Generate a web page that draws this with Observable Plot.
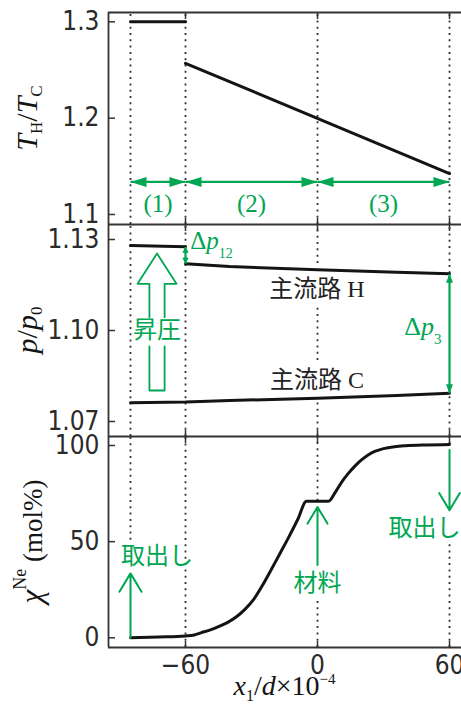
<!DOCTYPE html>
<html>
<head>
<meta charset="utf-8">
<script src="https://cdn.jsdelivr.net/npm/d3@7"></script>
<script src="https://cdn.jsdelivr.net/npm/@observablehq/plot@0.6"></script>
<style>
  html, body { margin: 0; padding: 0; background: white; }
  #wrap { position: relative; width: 461px; height: 719px; overflow: hidden; }
  .pane { position: absolute; left: 0; }
  svg { overflow: visible; }
</style>
</head>
<body>
<div id="wrap">
  <div class="pane" id="pa" style="top:0px"></div>
  <div class="pane" id="pb" style="top:212px"></div>
  <div class="pane" id="pc" style="top:424px"></div>
</div>
<script>
// ---------------- data ----------------
const xTicks = [-60, 0, 60];
const regionBounds = [-85, -60, 0, 60];
const regionLabels = ["(1)", "(2)", "(3)"];

// panel A : T_H / T_C
const thX1 = [-85, -60];
const thY1 = [1.300, 1.300];
const thX2 = [-60, 60];
const thY2 = [1.257, 1.1425];
const thTicks = [1.1, 1.2, 1.3];
const regionArrowY = 1.1338;
const regionLabelY = 1.1104;

// panel B : p / p0
const pHX1 = [-85, -60];
const pHY1 = [1.1280, 1.1276];
const pHX2 = [-60, -40, 0, 36, 60];
const pHY2 = [1.1220, 1.1211, 1.1200, 1.1192, 1.1187];
const pCX = [-85, -60, -40, 0, 36, 60];
const pCY = [1.0762, 1.0764, 1.0769, 1.0777, 1.0786, 1.0793];
const pTicks = [1.07, 1.10, 1.13];
const dp12 = {x: -60, y1: 1.1276, y2: 1.1220, lx: -57.6, ly: 1.1267};
const dp3 = {x: 60, y1: 1.1187, y2: 1.0793, lx: 56.6, ly: 1.09835};
const lineLabels = [{t: "主流路", s: " H", x: 0, y: 1.11088}, {t: "主流路", s: " C", x: 0, y: 1.08087}];
// hollow "boost" arrow outline
const boostX = [-76.4, -76.4, -81.8, -72.95, -64.1, -69.5, -69.5, -76.4, -76.4, -69.5, -69.5];
const boostY = [1.10438, 1.11539, 1.11539, 1.12538, 1.11539, 1.11539, 1.10438, 1.09472, 1.08021, 1.08021, 1.09472];
const boostPart = ["a", "a", "a", "a", "a", "a", "a", "b", "b", "b", "b"];
const boostLabel = {t: "昇圧", x: -72.95, y: 1.100};

// panel C : chi Ne (mol%)
const chiX = [-85, -72, -60, -56, -53, -49, -45, -41, -37, -33, -29, -25, -21, -17, -13, -9, -5,
              5, 8, 11, 14, 17, 20, 23, 26, 30, 35, 40, 50, 60];
const chiY = [0, 0.4, 1.0, 1.5, 2.6, 4.0, 5.8, 7.9, 10.8, 14.8, 20, 27.3, 35.5, 44, 52.5, 61.5, 71,
              71, 75.5, 81, 85.5, 89.3, 92.5, 95.1, 96.9, 98.4, 99.4, 99.9, 100.3, 100.5];
const chiTicks = [0, 50, 100];
const chiArrows = [
  {x: -85, y1: 0, y2: 33.5},
  {x: 0, y1: 37.9, y2: 68},
  {x: 60, y1: 97.6, y2: 66.3}
];
const chiLabels = [
  {t: "取出し", x: -73, y: 42.5},
  {t: "材料", x: 0, y: 28.1},
  {t: "取出し", x: 48.6, y: 57.1}
];

// ---------------- style ----------------
const GREEN = "#00a651";
const INK = "#141414";
const AX = "#333333";
const TICKFONT = "'Liberation Sans Narrow', 'DejaVu Sans Condensed', 'Liberation Sans', sans-serif";
const SERIF = "'Liberation Serif', 'DejaVu Serif', serif";
const CJK = "'Noto Sans CJK JP', 'Noto Sans CJK SC', sans-serif";
const DOTS = "2 4.3";
const TICKSIZE = 26;

const xDomain = [-95, 65.45];
const yA = [1.0896, 1.3097];
const yB = [1.06505, 1.13495];
const yC = [-5.04, 104.68];

function pts(xs, ys) { return xs.map((x, i) => ({x, y: ys[i]})); }

function frameAndAxes(yDom, yTicks, yFmt, bottomRule) {
  const m = [
    Plot.ruleY([yDom[1]], {stroke: AX, strokeWidth: 1.8}),
    Plot.ruleX([xDomain[0]], {stroke: AX, strokeWidth: 1.8}),
    Plot.axisY({ticks: yTicks, tickSize: 0, tickPadding: 9, tickFormat: yFmt, fontSize: TICKSIZE,
                fontFamily: TICKFONT, fill: "#2a2a2a", label: null}),
    Plot.axisY({ticks: yTicks, tickSize: -7, tickFormat: () => "", stroke: AX, strokeWidth: 1.5, label: null}),
    Plot.axisX({anchor: "top", ticks: xTicks, tickSize: -6, tickFormat: () => "", stroke: AX, strokeWidth: 1.5, label: null}),
    Plot.axisX({anchor: "bottom", ticks: xTicks, tickSize: -6, tickFormat: () => "", stroke: AX, strokeWidth: 1.5, label: null})
  ];
  if (bottomRule) m.push(Plot.ruleY([yDom[0]], {stroke: AX, strokeWidth: 1.8}));
  return m;
}

function guides(data) {
  return Plot.ruleX(data, {x: "x", y1: "y1", y2: "y2", stroke: AX, strokeWidth: 1.8, strokeDasharray: DOTS});
}

function spikes(data, len, r) {
  return Plot.vector(data, {x: "x", y: "y", rotate: "rot", length: len, r, shape: "spike",
                            anchor: "end", fill: GREEN, stroke: "none"});
}

function rich(svg, x, y, parts, {anchor = "start", rotate = 0, fill = INK} = {}) {
  const t = d3.select(svg).append("text")
    .attr("transform", `translate(${x},${y}) rotate(${rotate})`)
    .attr("text-anchor", anchor).attr("fill", fill);
  let shift = 0;
  for (const p of parts) {
    const ts = t.append("tspan").text(p.t)
      .attr("font-family", p.font || SERIF)
      .attr("font-size", p.size)
      .attr("font-style", p.italic ? "italic" : "normal");
    const target = p.shift || 0;
    if (target !== shift) ts.attr("dy", target - shift);
    shift = target;
    if (p.dx) ts.attr("dx", p.dx);
  }
}

const common = {
  width: 461, marginLeft: 108, marginRight: 0,
  x: {domain: xDomain, axis: null},
  style: {background: "transparent", overflow: "visible"}
};

// ---------------- panel A ----------------
const regionArrows = regionLabels.map((t, i) => ({a: regionBounds[i], b: regionBounds[i + 1], t,
  mid: (regionBounds[i] + regionBounds[i + 1]) / 2}));
const regionHeads = regionArrows.flatMap(d => [
  {x: d.a, y: regionArrowY, rot: 270}, {x: d.b, y: regionArrowY, rot: 90}]);

const chartA = Plot.plot({
  ...common, height: 226, marginTop: 12, marginBottom: 2,
  y: {domain: yA, axis: null},
  marks: [
    guides(regionBounds.map(x => ({x, y1: yA[0], y2: yA[1]}))),
    ...frameAndAxes(yA, thTicks, d => d.toFixed(1), false),
    Plot.line(pts(thX1, thY1), {x: "x", y: "y", stroke: INK, strokeWidth: 3}),
    Plot.line(pts(thX2, thY2), {x: "x", y: "y", stroke: INK, strokeWidth: 3}),
    Plot.link(regionArrows, {x1: "a", x2: "b", y1: () => regionArrowY, y2: () => regionArrowY,
                             stroke: GREEN, strokeWidth: 2.2}),
    spikes(regionHeads, 16, 5),
    Plot.text(regionArrows, {x: "mid", y: () => regionLabelY, text: "t", fontFamily: SERIF,
                             fontSize: 25, fill: GREEN})
  ]
});
document.getElementById("pa").append(chartA);
{
  const sy = chartA.scale("y");
  rich(chartA, 37, (sy.apply(yA[0]) + sy.apply(yA[1])) / 2, [
    {t: "T", size: 30, italic: true},
    {t: "H", size: 17, shift: 5},
    {t: "/", size: 30},
    {t: "T", size: 30, italic: true},
    {t: "C", size: 17, shift: 5}
  ], {anchor: "middle", rotate: -90});
}

// ---------------- panel B ----------------
const guidesB = [
  {x: -85, y1: yB[0], y2: yB[1]},
  {x: -60, y1: yB[0], y2: yB[1]},
  {x: 0, y1: 1.1221, y2: yB[1]},
  {x: 0, y1: 1.0901, y2: 1.1082},
  {x: 0, y1: yB[0], y2: 1.0763},
  {x: 60, y1: 1.1187, y2: yB[1]},
  {x: 60, y1: yB[0], y2: 1.0793}
];
const chartB = Plot.plot({
  ...common, height: 226, marginTop: 12, marginBottom: 2,
  y: {domain: yB, axis: null},
  marks: [
    guides(guidesB),
    ...frameAndAxes(yB, pTicks, d => d.toFixed(2), false),
    Plot.line(pts(pHX1, pHY1), {x: "x", y: "y", stroke: INK, strokeWidth: 3}),
    Plot.line(pts(pHX2, pHY2), {x: "x", y: "y", stroke: INK, strokeWidth: 3}),
    Plot.line(pts(pCX, pCY), {x: "x", y: "y", stroke: INK, strokeWidth: 3}),
    Plot.line(boostX.map((x, i) => ({x, y: boostY[i], z: boostPart[i]})),
              {x: "x", y: "y", z: "z", stroke: GREEN, strokeWidth: 1.8}),
    Plot.text([boostLabel], {x: "x", y: "y", text: "t", fontFamily: CJK, fontSize: 24, fill: GREEN}),
    Plot.link([dp12, dp3], {x1: "x", x2: "x", y1: "y1", y2: "y2", stroke: GREEN, strokeWidth: 2.2}),
    spikes([{x: dp12.x, y: dp12.y1, rot: 0}, {x: dp12.x, y: dp12.y2, rot: 180}], 6, 3.2),
    spikes([{x: dp3.x, y: dp3.y1, rot: 0}, {x: dp3.x, y: dp3.y2, rot: 180}], 9, 3.5)
  ]
});
document.getElementById("pb").append(chartB);
{
  const sx = chartB.scale("x"), sy = chartB.scale("y");
  rich(chartB, 37, (sy.apply(yB[0]) + sy.apply(yB[1])) / 2, [
    {t: "p", size: 30, italic: true},
    {t: "/", size: 30},
    {t: "p", size: 30, italic: true},
    {t: "0", size: 17, shift: 5}
  ], {anchor: "middle", rotate: -90});
  rich(chartB, sx.apply(dp12.lx), sy.apply(dp12.ly), [
    {t: "Δ", size: 25}, {t: "p", size: 25, italic: true}, {t: "12", size: 14, shift: 9}
  ], {fill: GREEN});
  rich(chartB, sx.apply(dp3.lx), sy.apply(dp3.ly), [
    {t: "Δ", size: 26}, {t: "p", size: 26, italic: true}, {t: "3", size: 15, shift: 9}
  ], {fill: GREEN, anchor: "end"});
  for (const l of lineLabels) {
    rich(chartB, sx.apply(l.x), sy.apply(l.y), [
      {t: l.t, size: 24, font: CJK}, {t: l.s, size: 24}
    ], {anchor: "middle", fill: "#222"});
  }
}

// ---------------- panel C ----------------
const guidesC = [
  {x: -85, y1: 50.7, y2: yC[1]},
  {x: -60, y1: yC[0], y2: yC[1]},
  {x: 0, y1: 71, y2: yC[1]},
  {x: 0, y1: yC[0], y2: 19.4},
  {x: 60, y1: 100.5, y2: yC[1]},
  {x: 60, y1: yC[0], y2: 49.1}
];
const chartC = Plot.plot({
  ...common, height: 295, marginTop: 12, marginBottom: 72,
  y: {domain: yC, axis: null},
  marks: [
    guides(guidesC),
    ...frameAndAxes(yC, chiTicks, d => String(d), true),
    Plot.axisX({ticks: xTicks, tickSize: 0, tickPadding: 8, fontSize: TICKSIZE, fontFamily: TICKFONT,
                fill: "#2a2a2a", label: null, tickFormat: d => d < 0 ? "\u2212" + (-d) : String(d)}),
    Plot.line(pts(chiX, chiY), {x: "x", y: "y", stroke: INK, strokeWidth: 3, curve: "monotone-x"}),
    Plot.arrow(chiArrows, {x1: "x", x2: "x", y1: "y1", y2: "y2", stroke: GREEN, strokeWidth: 2,
                           headLength: 19, headAngle: 62}),
    Plot.text(chiLabels, {x: "x", y: "y", text: "t", fontFamily: CJK, fontSize: 24, fill: GREEN})
  ]
});
document.getElementById("pc").append(chartC);
{
  const sy = chartC.scale("y");
  rich(chartC, 42, (sy.apply(yC[0]) + sy.apply(yC[1])) / 2, [
    {t: "χ", size: 31, italic: true},
    {t: "Ne", size: 18, shift: -16},
    {t: " (mol%)", size: 27, shift: 0}
  ], {anchor: "middle", rotate: -90});
  // x-axis label, centred on the visible plotting area
  rich(chartC, (108 + 461) / 2, 271, [
    {t: "x", size: 28, italic: true},
    {t: "1", size: 16, shift: 6},
    {t: "/", size: 28, shift: 0},
    {t: "d", size: 28, italic: true},
    {t: "×10", size: 28},
    {t: "\u22124", size: 15, shift: -11}
  ], {anchor: "middle"});
}
</script>
</body>
</html>
